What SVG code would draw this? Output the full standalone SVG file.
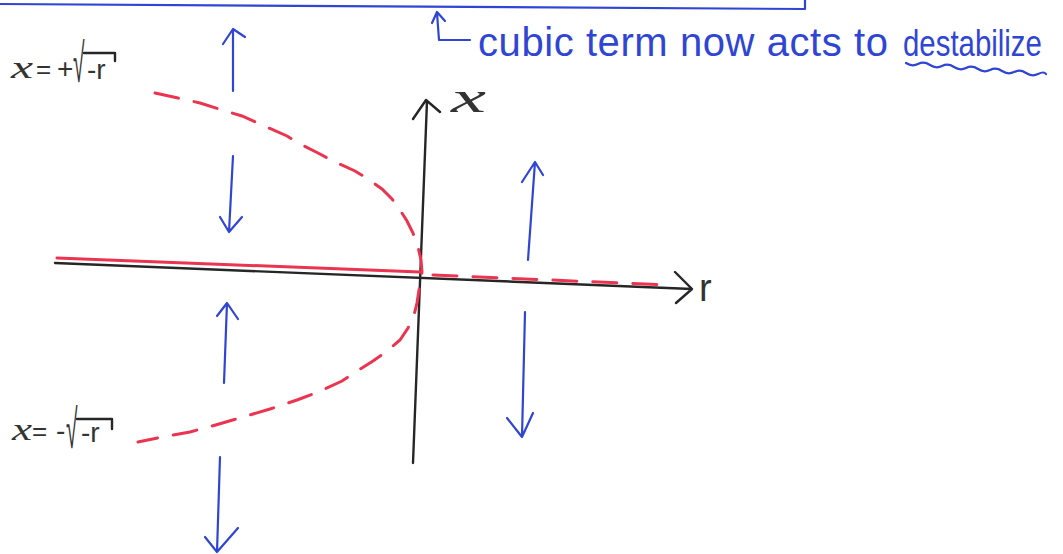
<svg xmlns="http://www.w3.org/2000/svg" width="1063" height="554" viewBox="0 0 1063 554">
<style>
.blue{fill:none;stroke:#2f45d4;stroke-width:2.2;stroke-linecap:round;stroke-linejoin:round}
.blk{fill:none;stroke:#262626;stroke-width:2.4;stroke-linecap:round;stroke-linejoin:round}
.red{fill:none;stroke:#ea3450;stroke-width:3;stroke-linecap:round}
.dash{stroke-dasharray:24 16}
.lbl{font-family:"Liberation Sans",Arial,sans-serif;fill:#333}
.var{font-family:"Liberation Serif","Times New Roman",serif;font-style:italic;fill:#333}
.note{font-family:"Liberation Sans",Arial,sans-serif;fill:#2f45d4}
</style>
<rect width="1063" height="554" fill="#fff"/>
<g id="frame">
<path class="blue" d="M0,4 L805,9 M805,0 L805,9"/>
</g>
<g id="note">
<path class="blue" d="M437,13 L439,40 L470,40 M432,23 L437,12 L445,21"/>
<text class="note" x="478" y="56" font-size="40" textLength="410" lengthAdjust="spacing">cubic term now acts to</text>
<text class="note" font-size="30" transform="translate(903,56) scale(0.98,1.25)">destabilize</text>
<path class="blue" d="M906,63 q6,4 12,1 t12,1 t12,1 t12,1 t12,1 t12,1 t12,1 t12,1 t12,1 t12,1 t12,1 t8,0"/>
</g>
<g id="axes">
<path class="blk" d="M55,263 L692,289 M675,272 L692,289 L676,303"/>
<path class="blk" d="M413,463 L427,101 M413,119 L426,100 L440,112"/>
<text class="var" x="451" y="112" font-size="44" textLength="35" lengthAdjust="spacingAndGlyphs">x</text>
<text class="lbl" x="699" y="301" font-size="38" fill="#222">r</text>
</g>
<g id="branches">
<path class="red" d="M57,258 L420,272"/>
<path class="red dash" d="M433,275 L667,285"/>
<polyline class="red dash" points="155,93 178,98 200,103 222,110 242,116 262,125 287,136 300,144 318,153 335,162 355,171 368,179 382,189 392,199 400,210 407,221 413,233 418,247 421,260 422,272 419,290 417,303 414,315 408,328 400,340 386,352 373,361 357,371 342,381 318,392 297,400 270,409 243,417 212,426 190,432 162,437 138,442"/>
</g>
<g id="label-upper">
<text class="var" x="11" y="78" font-size="32" textLength="22" lengthAdjust="spacingAndGlyphs">x</text>
<text class="lbl" x="36" y="78" font-size="26">=</text>
<text class="lbl" x="57" y="78" font-size="28">+</text>
<text class="lbl" font-size="30" transform="translate(73,82) scale(0.7,1.8)">√</text>
<path class="blk" stroke-width="1.8" d="M84,53 L115,53 L115,61"/>
<text class="lbl" x="87" y="79" font-size="28">-r</text>
</g>
<g id="label-lower">
<text class="var" x="12" y="440" font-size="32" textLength="20" lengthAdjust="spacingAndGlyphs">x</text>
<text class="lbl" x="32" y="440" font-size="26">=</text>
<text class="lbl" x="56" y="440" font-size="28">-</text>
<text class="lbl" font-size="30" transform="translate(66,448) scale(0.7,1.8)">√</text>
<path class="blk" stroke-width="1.8" d="M77,419 L112,419 L112,429"/>
<text class="lbl" x="81" y="442" font-size="28">-r</text>
</g>
<g id="flow-arrows">
<path class="blue" d="M233,91 L233,29 M223,44 L233,29 L245,37"/>
<path class="blue" d="M233,156 L229,232 M220,217 L229,232 L242,217"/>
<path class="blue" d="M224,383 L227,303 M217,316 L227,303 L238,319"/>
<path class="blue" d="M220,457 L217,552 M205,537 L217,552 L238,528"/>
<path class="blue" d="M528,260 L535,162 M522,182 L535,162 L543,175"/>
<path class="blue" d="M525,312 L522,437 M507,418 L522,437 L533,413"/>
</g>
</svg>
